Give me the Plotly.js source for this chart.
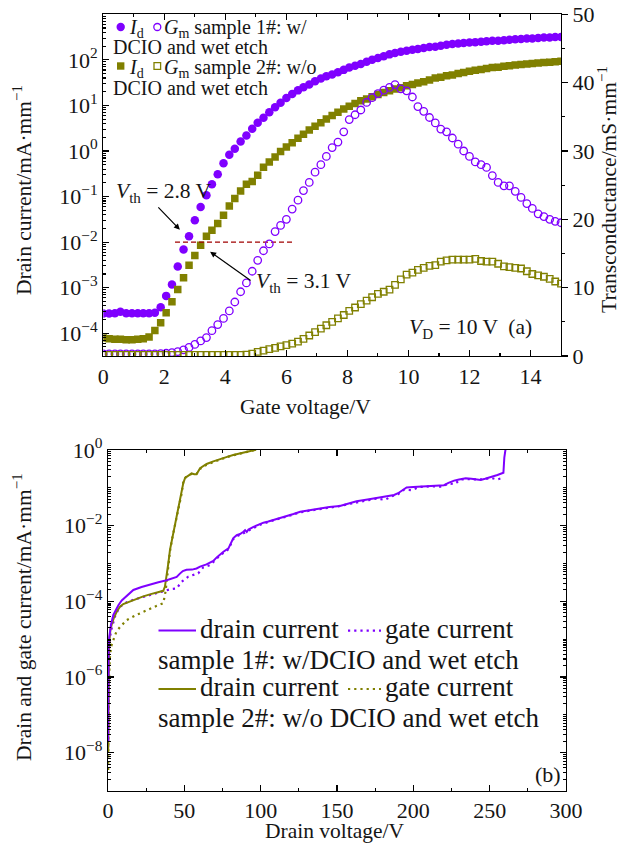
<!DOCTYPE html>
<html>
<head>
<meta charset="utf-8">
<script src="https://cdn.plot.ly/plotly-3.0.1.min.js"></script>
<style>
html,body{margin:0;padding:0;background:#fff;}
#chart{width:622px;height:849px;}
</style>
</head>
<body>
<div id="chart"></div>
<script>
// ---------- Panel (a): transfer characteristics ----------
const gateVoltage = [0,0.19,0.38,0.56,0.75,0.94,1.13,1.31,1.5,1.69,1.88,2.06,2.25,2.44,2.63,2.81,3.0,3.19,3.38,3.56,3.75,3.94,4.13,4.31,4.5,4.69,4.88,5.06,5.25,5.44,5.63,5.81,6.0,6.19,6.38,6.56,6.75,6.94,7.13,7.31,7.5,7.69,7.88,8.06,8.25,8.44,8.63,8.81,9.0,9.19,9.38,9.56,9.75,9.94,10.13,10.31,10.5,10.69,10.88,11.06,11.25,11.44,11.63,11.81,12.0,12.19,12.38,12.56,12.75,12.94,13.13,13.31,13.5,13.69,13.88,14.06,14.25,14.44,14.63,14.81,15.0];

// Drain current, mA/mm
const idSample1 = [2.7e-4,2.7e-4,2.75e-4,2.95e-4,2.75e-4,2.75e-4,2.75e-4,2.75e-4,2.75e-4,2.8e-4,3.7e-4,6.6e-4,1.17e-3,2.9e-3,6.9e-3,1.35e-2,3.0e-2,5.9e-2,0.107,0.186,0.309,0.537,0.83,1.12,1.62,2.19,3.09,4.17,5.37,7.08,9.12,11.5,14.5,17.8,21.4,25.1,28.8,33.9,38.9,43.6,47.9,53.7,60.3,67.6,74.1,81.3,91.2,100,110,120,132,141,151,158,166,174,182,191,195,204,214,224,229,234,240,245,251,257,263,263,269,275,282,288,295,295,302,309,309,316,316];
const idSample2 = [7.9e-5,7.6e-5,7.4e-5,7.4e-5,7.2e-5,7.2e-5,7.4e-5,7.6e-5,8.3e-5,1.15e-4,1.7e-4,2.8e-4,4.9e-4,9.1e-4,1.66e-3,3.1e-3,5.1e-3,8.5e-3,1.35e-2,1.82e-2,2.57e-2,3.9e-2,6.2e-2,9.1e-2,0.132,0.186,0.214,0.295,0.437,0.575,0.741,0.977,1.23,1.51,1.91,2.34,2.88,3.47,4.17,5.01,6.03,7.08,8.32,9.55,11.0,12.6,13.8,15.5,17.4,19.1,20.9,22.9,24.5,26.9,28.8,30.9,33.1,36.3,39.8,41.7,44.7,46.8,50.1,52.5,56.2,58.9,61.7,64.6,67.6,69.2,72.4,74.1,77.6,79.4,81.3,83.2,85.1,87.1,89.1,91.2,93.3];

// Transconductance, mS/mm
const gmSample1 = [0.3,0.3,0.3,0.3,0.3,0.3,0.3,0.3,0.3,0.3,0.35,0.4,0.5,0.65,0.9,1.25,1.7,2.2,2.7,3.7,4.6,5.5,6.6,7.9,9.4,10.7,12.4,14.0,15.4,16.4,18.2,19.1,20.0,21.5,22.8,24.2,25.4,26.9,28.0,29.2,30.5,31.3,32.8,34.6,35.3,36.0,37.1,37.8,38.4,38.9,39.3,39.7,39.1,38.8,37.9,36.5,35.8,34.9,34.1,33.2,32.8,31.9,31.0,30.0,29.2,28.4,28.0,27.6,26.4,25.4,24.9,24.9,24.1,23.2,22.3,21.6,20.8,20.4,20.0,19.7,19.5];
const gmSample2 = [0.15,0.15,0.15,0.15,0.15,0.15,0.15,0.15,0.15,0.15,0.15,0.15,0.15,0.15,0.15,0.15,0.15,0.15,0.15,0.15,0.15,0.15,0.15,0.15,0.15,0.2,0.35,0.6,0.8,1.0,1.2,1.4,1.6,1.8,2.1,2.5,3.0,3.5,4.0,4.5,5.0,5.5,6.0,6.6,7.1,7.6,8.1,8.6,9.1,9.4,9.7,10.4,11.2,11.9,12.2,12.6,12.9,13.2,13.3,13.8,14.0,14.1,14.1,14.1,14.1,14.2,13.9,13.8,13.8,13.5,13.1,13.0,12.9,12.8,12.4,12.0,11.8,11.6,11.3,10.9,10.6];

// Threshold criterion line (1e-2 mA/mm)
const thresholdX = [2.35, 6.2];
const thresholdY = [0.01, 0.01];
// Threshold arrows: [gate voltage, log10(current)] of the arrow heads
const vth1Head = [2.51, -1.73];
const vth2Head = [3.5, -2.21];

const topYTickVals = [1e-4,1e-3,1e-2,1e-1,1,10,100,1000];
const topYTickText = ['10<sup>−4</sup>','10<sup>−3</sup>','10<sup>−2</sup>','10<sup>−1</sup>','10<sup>0</sup>','10<sup>1</sup>','10<sup>2</sup>','10<sup>3</sup>'];

// ---------- Panel (b): off-state breakdown ----------
const vdS1Drain = [0.05,0.1,0.2,0.4,0.8,1.3,2,3.5,5,6.8,9,12.2,16.6,22,27.5,33,38.4,43,45,47.1,49,51.4,55,58,60.3,64.5,66.8,69,71.2,73.5,75.6,78.9,80.5,82.1,84.3,86.5,88.7,89.8,90.9,92,95.3,98.5,101.8,105,108.4,112.6,117.1,121.5,125.9,132,138.8,145,151.9,157,162.8,170,178.6,184,187.4,190,191.7,195.6,200,209.2,215,220.1,223,226.7,230,234.3,238,244.1,247,250.7,253,255.1,259,259.6,260.5];
const idS1Drain = [2.0e-8,1.6e-7,2.5e-6,6.3e-6,1.12e-5,1.74e-5,2.5e-5,4.4e-5,6.0e-5,7.9e-5,1.05e-4,1.35e-4,2.0e-4,2.4e-4,2.8e-4,3.2e-4,3.6e-4,4.1e-4,4.4e-4,5.4e-4,6.3e-4,6.8e-4,6.9e-4,7.4e-4,8.3e-4,9.5e-4,1.05e-3,1.17e-3,1.45e-3,1.74e-3,2.04e-3,2.5e-3,3.3e-3,4.7e-3,5.6e-3,6.0e-3,6.9e-3,7.6e-3,6.8e-3,7.9e-3,9.3e-3,1.07e-2,1.2e-2,1.29e-2,1.41e-2,1.58e-2,1.82e-2,2.04e-2,2.34e-2,2.57e-2,2.88e-2,3.1e-2,3.3e-2,3.8e-2,4.4e-2,4.9e-2,5.6e-2,6.0e-2,6.5e-2,7.2e-2,7.9e-2,0.102,0.105,0.11,0.112,0.117,0.135,0.155,0.166,0.178,0.174,0.162,0.174,0.191,0.204,0.219,0.251,0.63,1.12];

const vdS1Gate = [0.1,0.2,0.4,0.8,1.5,2.5,3.5,5,7.9,12,16.6,22,27.5,33,37.3,41,45,48.2,52.6,56,59.1,62.4,66.8,70,73,76.6,79,82,84.3,88.7,92,95.3,100,105,110,117,125,132,140,150,160,170,176,181.4,186,190,194,198.8,204,212,219,223,227,231,236,242,247,251,255,259];
const igS1Gate = [1.4e-8,3.2e-7,2.0e-6,6.3e-6,1.26e-5,2.0e-5,2.8e-5,4.5e-5,7.2e-5,9.3e-5,1.1e-4,1.26e-4,1.48e-4,1.7e-4,1.9e-4,2.1e-4,2.2e-4,3.3e-4,4.5e-4,5.0e-4,5.5e-4,7.9e-4,9.1e-4,1.2e-3,1.58e-3,2.04e-3,2.4e-3,4.4e-3,5.2e-3,6.3e-3,7.6e-3,8.7e-3,1.07e-2,1.26e-2,1.45e-2,1.74e-2,2.2e-2,2.5e-2,2.75e-2,3.2e-2,3.9e-2,4.7e-2,5.2e-2,4.8e-2,6.0e-2,6.8e-2,8.9e-2,8.7e-2,0.105,0.11,0.107,0.132,0.126,0.166,0.17,0.166,0.17,0.182,0.166,0.186];

const vdS2Drain = [0.1,0.2,0.35,0.6,1.0,1.6,2.5,4,6,7.9,10,14.4,18.8,23.1,28,32,36.2,37.3,38.4,39.5,40.6,42.8,45,47.1,49.3,50.5,52,54.8,56.5,58,60.3,64.6,69,73.4,78,82,88,94,97];
const idS2Drain = [1e-8,1e-7,1e-6,4.0e-6,1e-5,1.78e-5,2.5e-5,3.8e-5,5.6e-5,7.2e-5,8.5e-5,1.0e-4,1.17e-4,1.35e-4,1.55e-4,1.7e-4,1.9e-4,2.45e-4,4.5e-4,1.0e-3,2.3e-3,6.3e-3,1.74e-2,4.8e-2,0.132,0.182,0.204,0.24,0.229,0.229,0.331,0.427,0.5,0.56,0.66,0.74,0.85,0.95,1.02];

const vdS2Gate = [0.1,0.3,0.6,1.2,2,3.5,5.5,7.9,10,12.2,18.8,25.3,31.9,36.2,37.3,37.7,38.5,39.5,40.5,42,44,46,48,49.5,51,53,55,58,60.3,64.6,70,75,80,86,92,96];
const igS2Gate = [3.5e-9,6.3e-8,6.3e-7,3.2e-6,6.3e-6,9.5e-6,1.58e-5,2.1e-5,2.6e-5,3.2e-5,4.4e-5,5.9e-5,7.6e-5,8.9e-5,1.35e-4,1.82e-4,3.5e-4,8.9e-4,2.0e-3,4.5e-3,1.12e-2,2.8e-2,6.3e-2,0.158,0.191,0.209,0.24,0.234,0.316,0.407,0.5,0.59,0.69,0.79,0.91,1.0];

const bottomYTickVals = [1e-8,1e-6,1e-4,1e-2,1];
const bottomYTickText = ['10<sup>−8</sup>','10<sup>−6</sup>','10<sup>−4</sup>','10<sup>−2</sup>','10<sup>0</sup>'];

// ---------- styling ----------
const PURPLE = '#7f00ff';
const OLIVE = '#808000';
const FONT = 'Liberation Serif, Times New Roman, serif';
const TXT = '#151515';
const W = 622, H = 849;
const px = v => v / W;
const py = v => 1 - v / H;

function minorLog(lo, hi) {
  const out = [];
  for (let d = lo; d <= hi; d++) for (let k = 1; k <= 9; k++) {
    if (k === 1 && d % 2 === 0) continue;
    out.push(k * Math.pow(10, d));
  }
  return out;
}
function minorLogTop(lo, hi) {
  const out = [];
  for (let d = lo; d <= hi; d++) for (let k = 2; k <= 9; k++) out.push(k * Math.pow(10, d));
  return out;
}

const dotDash = '2.2px,4px';

const traces = [
  {x: gateVoltage, y: idSample1, xaxis: 'x', yaxis: 'y', mode: 'markers', type: 'scatter',
   marker: {symbol: 'circle', size: 8.5, color: PURPLE, line: {width: 0}}, showlegend: false},
  {x: gateVoltage, y: idSample2, xaxis: 'x', yaxis: 'y', mode: 'markers', type: 'scatter',
   marker: {symbol: 'square', size: 7.5, color: OLIVE, line: {width: 0}}, showlegend: false},
  {x: thresholdX, y: thresholdY, xaxis: 'x', yaxis: 'y', mode: 'lines', type: 'scatter',
   line: {color: '#a00000', width: 1.2, dash: '5px,3px'}, showlegend: false},
  {x: gateVoltage, y: gmSample1, xaxis: 'x', yaxis: 'y2', mode: 'markers', type: 'scatter',
   marker: {symbol: 'circle-open', size: 7.5, color: PURPLE, line: {width: 1.3, color: PURPLE}}, showlegend: false},
  {x: gateVoltage, y: gmSample2, xaxis: 'x', yaxis: 'y2', mode: 'markers', type: 'scatter',
   marker: {symbol: 'square-open', size: 6.5, color: OLIVE, line: {width: 1.3, color: OLIVE}}, showlegend: false},

  {x: vdS2Gate, y: igS2Gate, xaxis: 'x2', yaxis: 'y3', mode: 'lines', type: 'scatter',
   line: {color: OLIVE, width: 2.2, dash: dotDash}, showlegend: false},
  {x: vdS1Gate, y: igS1Gate, xaxis: 'x2', yaxis: 'y3', mode: 'lines', type: 'scatter',
   line: {color: PURPLE, width: 2.2, dash: dotDash}, showlegend: false},
  {x: vdS2Drain, y: idS2Drain, xaxis: 'x2', yaxis: 'y3', mode: 'lines', type: 'scatter',
   line: {color: OLIVE, width: 2}, showlegend: false},
  {x: vdS1Drain, y: idS1Drain, xaxis: 'x2', yaxis: 'y3', mode: 'lines', type: 'scatter',
   line: {color: PURPLE, width: 2}, showlegend: false}
];

const axisBase = {
  showgrid: false, zeroline: false, showline: true, linecolor: '#000', linewidth: 1.2,
  tickcolor: '#000', tickwidth: 1.1, tickfont: {family: FONT, size: 22, color: TXT}
};

function ann(text, x, y, opts) {
  return Object.assign({text: text, x: px(x), y: py(y), xref: 'paper', yref: 'paper',
    showarrow: false, xanchor: 'left', yanchor: 'middle', borderpad: 0,
    font: {family: FONT, size: 20, color: TXT}}, opts || {});
}

const annotations = [
  // axis titles
  ann('Gate voltage/V', 305, 407, {xanchor: 'center', font: {family: FONT, size: 21.5, color: TXT}}),
  ann('Drain current/mA·mm<sup>−1</sup>', 22, 190, {xanchor: 'center', textangle: -90, font: {family: FONT, size: 21.5, color: TXT}}),
  ann('Transconductance/mS·mm<sup>−1</sup>', 607, 190, {xanchor: 'center', textangle: -90, font: {family: FONT, size: 21.5, color: TXT}}),
  ann('Drain voltage/V', 335, 831, {xanchor: 'center', font: {family: FONT, size: 21.5, color: TXT}}),
  ann('Drain and gate current/mA·mm<sup>−1</sup>', 22, 617, {xanchor: 'center', textangle: -90, font: {family: FONT, size: 21.5, color: TXT}}),

  // top legend
  ann('<i>I</i><sub>d</sub>', 128, 28),
  ann('<i>G</i><sub>m</sub> sample 1#: w/', 163, 28),
  ann('DCIO and wet etch', 112, 47),
  ann('<i>I</i><sub>d</sub>', 128, 68),
  ann('<i>G</i><sub>m</sub> sample 2#: w/o', 163, 68),
  ann('DCIO and wet etch', 112, 88),

  // threshold labels and arrows
  ann('<i>V</i><sub>th</sub> = 2.8 V', 115, 192, {font: {family: FONT, size: 21.5, color: TXT}}),
  ann('<i>V</i><sub>th</sub> = 3.1 V', 255, 283, {font: {family: FONT, size: 21.5, color: TXT}}),
  {x: vth1Head[0], y: vth1Head[1], xref: 'x', yref: 'y', text: '', showarrow: true,
   ax: -23, ay: -24, arrowhead: 2, arrowsize: 1, arrowwidth: 1.2, arrowcolor: '#000'},
  {x: vth2Head[0], y: vth2Head[1], xref: 'x', yref: 'y', text: '', showarrow: true,
   ax: 42, ay: 30, arrowhead: 2, arrowsize: 1, arrowwidth: 1.2, arrowcolor: '#000'},
  ann('<i>V</i><sub>D</sub> = 10 V  (a)', 533, 328, {xanchor: 'right', font: {family: FONT, size: 21.5, color: TXT}}),

  // bottom legend
  ann('drain current', 199, 629, {font: {family: FONT, size: 27, color: TXT}}),
  ann('gate current', 384, 629, {font: {family: FONT, size: 27, color: TXT}}),
  ann('sample 1#: w/DCIO and wet etch', 157, 660, {font: {family: FONT, size: 27, color: TXT}}),
  ann('drain current', 199, 687, {font: {family: FONT, size: 27, color: TXT}}),
  ann('gate current', 384, 687, {font: {family: FONT, size: 27, color: TXT}}),
  ann('sample 2#: w/o DCIO and wet etch', 157, 718, {font: {family: FONT, size: 27, color: TXT}}),
  ann('(b)', 562, 774, {xanchor: 'right', font: {family: FONT, size: 22, color: TXT}})
];

function markerShape(type, cx, cy, r, color, filled) {
  return {type: type, xref: 'paper', yref: 'paper', xsizemode: 'pixel', ysizemode: 'pixel',
    xanchor: px(cx), yanchor: py(cy), x0: -r, x1: r, y0: -r, y1: r,
    fillcolor: filled ? color : 'rgba(0,0,0,0)', line: {color: color, width: filled ? 0 : 1.3}};
}
function legLine(x0, x1, y, color, dash) {
  return {type: 'line', xref: 'paper', yref: 'paper', x0: px(x0), x1: px(x1), y0: py(y), y1: py(y),
    line: {color: color, width: dash ? 2.2 : 2, dash: dash || 'solid'}};
}

const shapes = [
  markerShape('circle', 120.7, 27, 4.2, PURPLE, true),
  markerShape('circle', 157.3, 27, 3.5, PURPLE, false),
  markerShape('rect', 120.7, 66, 3.7, OLIVE, true),
  markerShape('rect', 157.3, 66, 3.3, OLIVE, false),
  legLine(158.5, 196, 630.6, PURPLE),
  legLine(348, 381, 630.6, PURPLE, dotDash),
  legLine(158.5, 196, 689, OLIVE),
  legLine(348, 381, 689, OLIVE, dotDash)
];

const layout = {
  width: W, height: H, margin: {l: 0, r: 0, t: 0, b: 0},
  paper_bgcolor: '#fff', plot_bgcolor: 'rgba(0,0,0,0)',
  showlegend: false,
  font: {family: FONT, color: TXT},
  xaxis: Object.assign({}, axisBase, {
    domain: [px(103.3), px(561)], anchor: 'y', range: [0, 15],
    tickmode: 'linear', tick0: 0, dtick: 2, ticks: 'inside', ticklen: 6, mirror: 'ticks',
    minor: {tickmode: 'linear', tick0: 1, dtick: 1, ticks: 'inside', ticklen: 3, tickcolor: '#000'}
  }),
  yaxis: Object.assign({}, axisBase, {
    domain: [py(356), py(14.3)], anchor: 'x', type: 'log', range: [-4.5, 3],
    tickmode: 'array', tickvals: topYTickVals, ticktext: topYTickText,
    ticks: 'inside', ticklen: 6, mirror: false,
    minor: {tickmode: 'array', tickvals: minorLogTop(-5, 2), ticks: 'inside', ticklen: 3, tickcolor: '#000'}
  }),
  yaxis2: Object.assign({}, axisBase, {
    overlaying: 'y', side: 'right', anchor: 'x', range: [0, 50],
    tickmode: 'linear', tick0: 0, dtick: 10, ticks: 'outside', ticklen: 6,
    minor: {tickmode: 'linear', tick0: 5, dtick: 10, ticks: 'outside', ticklen: 3, tickcolor: '#000'}
  }),
  xaxis2: Object.assign({}, axisBase, {
    domain: [px(108), px(566)], anchor: 'y3', range: [0, 300],
    tickmode: 'linear', tick0: 0, dtick: 50, ticks: 'inside', ticklen: 6, mirror: 'ticks',
    minor: {tickmode: 'linear', tick0: 25, dtick: 50, ticks: 'inside', ticklen: 3, tickcolor: '#000'}
  }),
  yaxis3: Object.assign({}, axisBase, {
    domain: [py(790.5), py(450)], anchor: 'x2', type: 'log', range: [-9, 0],
    tickmode: 'array', tickvals: bottomYTickVals, ticktext: bottomYTickText,
    ticks: 'inside', ticklen: 6, mirror: 'allticks',
    minor: {tickmode: 'array', tickvals: minorLog(-9, -1), ticks: 'inside', ticklen: 3, tickcolor: '#000'}
  }),
  annotations: annotations,
  shapes: shapes
};

Plotly.newPlot('chart', traces, layout, {staticPlot: true, displayModeBar: false});
</script>
</body>
</html>
